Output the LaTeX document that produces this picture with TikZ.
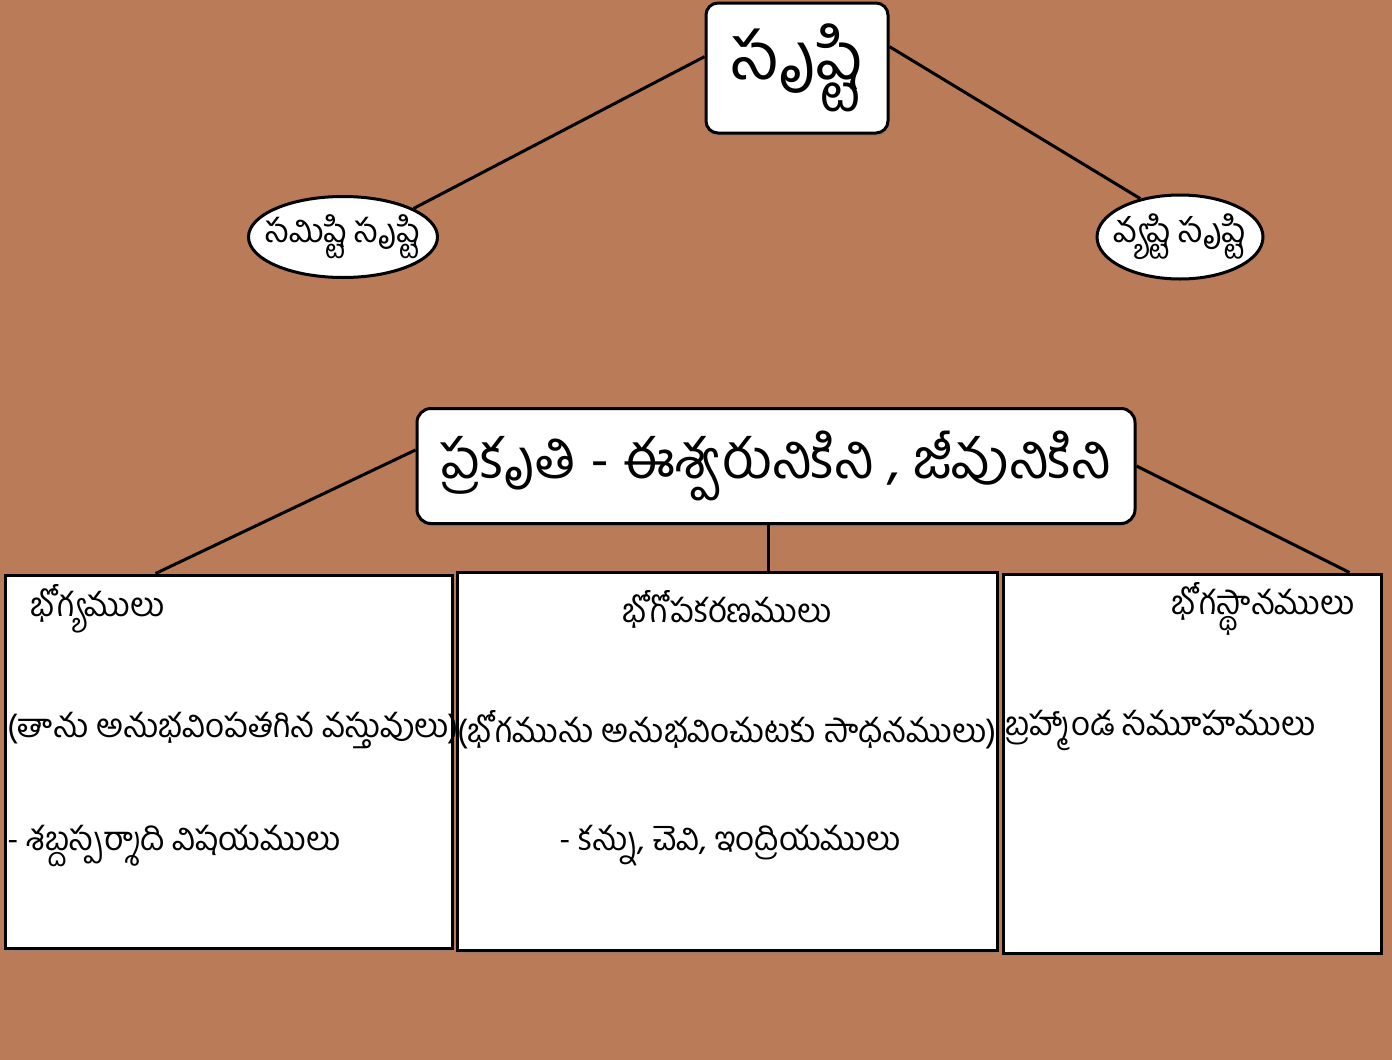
\documentclass[tikz,border=0pt]{standalone}
\usepackage{fontspec}
\newfontfamily\telugufont[Script=Telugu]{Hind Guntur}
\usetikzlibrary{shapes.geometric,shadows}

\begin{document}
\begin{tikzpicture}[x=1pt,y=-1pt,
    every node/.style={font=\telugufont,text=black},
    roundbox/.style={draw,line width=3pt,rounded corners=12pt,fill=white,
      drop shadow={shadow xshift=0pt,shadow yshift=-3pt,opacity=0.5}},
    ovalbox/.style={draw,ellipse,line width=3pt,fill=white,inner xsep=-20pt,inner ysep=-6pt},
    listbox/.style={draw,line width=3pt,fill=white,
      drop shadow={shadow xshift=0pt,shadow yshift=-3pt,opacity=0.5}},
    boxtext/.style={inner sep=0pt,font=\telugufont\fontsize{33}{38}\selectfont},
    link/.style={line width=3pt}
  ]

  \definecolor{bgbrown}{HTML}{B97B58}

  \fill[bgbrown] (0,0) rectangle (1392,1060);
  \useasboundingbox (0,0) rectangle (1392,1060);

  % top level
  \node[roundbox,minimum width=182pt,minimum height=130pt,
    font=\telugufont\fontsize{66}{72}\selectfont] at (797,68) (srushti) {సృష్టి};
  \node[ovalbox,minimum width=189pt,minimum height=81pt,
    font=\telugufont\fontsize{33}{36}\selectfont] at (343,237) (samashti) {సమిష్టి సృష్టి};
  \node[ovalbox,minimum width=166pt,minimum height=84pt,
    font=\telugufont\fontsize{34}{36}\selectfont] at (1180,237) (vyashti) {వ్యష్టి సృష్టి};

  \draw[link] (srushti.173) -- (samashti.22);
  \draw[link] (srushti.13) -- (vyashti.136);

  % prakruti
  \node[roundbox,rounded corners=14pt,minimum width=718pt,minimum height=115pt,
    font=\telugufont\fontsize{55}{60}\selectfont] at (776,466) (prakruti)
    {ప్రకృతి - ఈశ్వరునికిని , జీవునికిని};

  % three boxes
  \node[listbox,minimum width=447pt,minimum height=373pt] at (228.5,761.5) (bhogya) {};
  \node[listbox,minimum width=540pt,minimum height=378pt] at (727,761) (upakarana) {};
  \node[listbox,minimum width=378pt,minimum height=379pt] at (1192,763.5) (sthana) {};

  \draw[link] ([yshift=16pt]prakruti.west) -- ([xshift=-73pt]bhogya.north);
  \draw[link] ([xshift=-8pt]prakruti.south) -- ([xshift=-8pt]prakruti.south |- upakarana.north);
  \draw[link] (prakruti.east) -- ([xshift=-33pt]sthana.north east);

  \node[boxtext,anchor=west] at (30,609) (bhogya1) {భోగ్యములు};
  \node[boxtext,anchor=west] at (7,730) (bhogya2) {(తాను అనుభవింపతగిన వస్తువులు)};
  \node[boxtext,anchor=west] at (7,846) (bhogya3) {- శబ్దస్పర్శాది విషయములు};

  \node[boxtext] at (727,609) (upakarana1) {భోగోపకరణములు};
  \node[boxtext] at (727,730) (upakarana2) {(భోగమును అనుభవించుటకు సాధనములు)};
  \node[boxtext] at (730,846) (upakarana3) {- కన్ను, చెవి, ఇంద్రియములు};

  \node[boxtext,anchor=east] at (1355,609) (sthana1) {భోగస్థానములు};
  \node[boxtext,anchor=west] at (1005,730) (sthana2) {బ్రహ్మాండ సమూహములు};
\end{tikzpicture}
\end{document}
